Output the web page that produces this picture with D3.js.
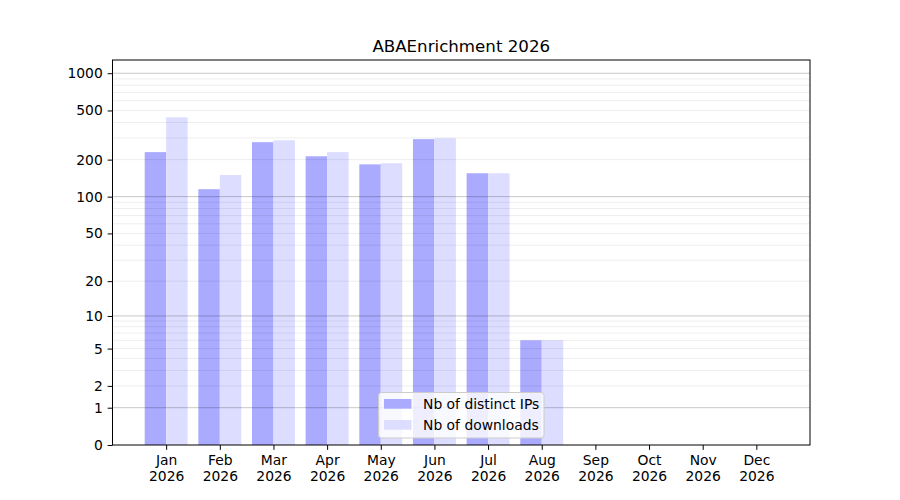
<!DOCTYPE html>
<html>
<head>
<meta charset="utf-8">
<script src="https://cdn.jsdelivr.net/npm/d3@7"></script>
<style>
  body { margin: 0; background: #fff; }
  text { font-family: "DejaVu Sans", sans-serif; fill: #000; }
</style>
</head>
<body>
<svg id="chart" width="900" height="500"></svg>
<script>
const months = ['Jan', 'Feb', 'Mar', 'Apr', 'May', 'Jun', 'Jul', 'Aug', 'Sep', 'Oct', 'Nov', 'Dec'];
const year = '2026';
const distinctIPs = [230, 115, 277, 213, 183, 293, 155, 6, 0, 0, 0, 0];
const downloads = [440, 150, 287, 230, 187, 298, 155, 6, 0, 0, 0, 0];
const yTicks = [0, 1, 2, 5, 10, 20, 50, 100, 200, 500, 1000];
const majorGrid = [1, 10, 100, 1000];
const minorGrid = [2, 3, 4, 5, 6, 7, 8, 9, 20, 30, 40, 50, 60, 70, 80, 90,
  200, 300, 400, 500, 600, 700, 800, 900];

const axL = 112.5, axR = 810, axT = 60, axB = 445;
const fs = 13.89, pad = 4.86;
const svg = d3.select('#chart');

const x = d3.scaleLinear().domain([-1, 12]).range([axL, axR]);
const y = d3.scaleSymlog().constant(1).domain([0, 1279]).range([axB, axT]);
const barW = x(0.4) - x(0);

// bars
svg.append('g').selectAll('rect').data(distinctIPs).join('rect')
  .attr('x', (d, i) => x(i - 0.4)).attr('width', barW)
  .attr('y', d => y(d)).attr('height', d => y(0) - y(d))
  .attr('fill', '#aaaaff');
svg.append('g').selectAll('rect').data(downloads).join('rect')
  .attr('x', (d, i) => x(i)).attr('width', barW)
  .attr('y', d => y(d)).attr('height', d => y(0) - y(d))
  .attr('fill', '#ddddff');

// grid on top of the bars
const grid = svg.append('g');
grid.selectAll('.minor').data(minorGrid).join('line')
  .attr('x1', axL).attr('x2', axR)
  .attr('y1', d => y(d)).attr('y2', d => y(d))
  .attr('stroke', '#000').attr('stroke-opacity', 0.07).attr('stroke-width', 1);
grid.selectAll('.major').data(majorGrid).join('line')
  .attr('x1', axL).attr('x2', axR)
  .attr('y1', d => y(d)).attr('y2', d => y(d))
  .attr('stroke', '#000').attr('stroke-opacity', 0.22).attr('stroke-width', 1);

// axes
const yAxis = d3.axisLeft(y).tickValues(yTicks).tickFormat(d3.format('d'))
  .tickSize(pad).tickPadding(pad);
svg.append('g').attr('transform', `translate(${axL},0)`).call(yAxis)
  .call(g => g.select('.domain').remove())
  .call(g => g.selectAll('text').attr('font-size', fs).attr('font-family', 'DejaVu Sans'));

const xAxis = d3.axisBottom(x).tickValues(d3.range(12)).tickFormat(i => months[i])
  .tickSize(pad).tickPadding(pad);
const xg = svg.append('g').attr('transform', `translate(0,${axB})`).call(xAxis);
xg.select('.domain').remove();
xg.selectAll('.tick text').attr('font-size', fs).attr('font-family', 'DejaVu Sans')
  .each(function () {
    d3.select(this).append('tspan').attr('x', 0).attr('dy', '1.18em').text(year);
  });

svg.append('rect').attr('x', axL).attr('y', axT)
  .attr('width', axR - axL).attr('height', axB - axT)
  .attr('fill', 'none').attr('stroke', '#000').attr('stroke-width', 1);

// title
svg.append('text').attr('x', (axL + axR) / 2).attr('y', 52)
  .attr('text-anchor', 'middle').attr('font-size', 16.67).text('ABAEnrichment 2026');

// legend
const lg = svg.append('g').attr('transform', 'translate(378.5,392.5)');
lg.append('rect').attr('width', 165.5).attr('height', 45.5).attr('rx', 3)
  .attr('fill', '#fff').attr('fill-opacity', 0.8).attr('stroke', '#cccccc');
const legendItems = [['Nb of distinct IPs', '#aaaaff'], ['Nb of downloads', '#ddddff']];
legendItems.forEach(([label, color], k) => {
  lg.append('rect').attr('x', 5.5).attr('y', 6.5 + k * 21).attr('width', 27.5).attr('height', 9.7)
    .attr('fill', color);
  lg.append('text').attr('x', 44.5).attr('y', 16.3 + k * 21).attr('font-size', fs).text(label);
});
</script>
</body>
</html>
